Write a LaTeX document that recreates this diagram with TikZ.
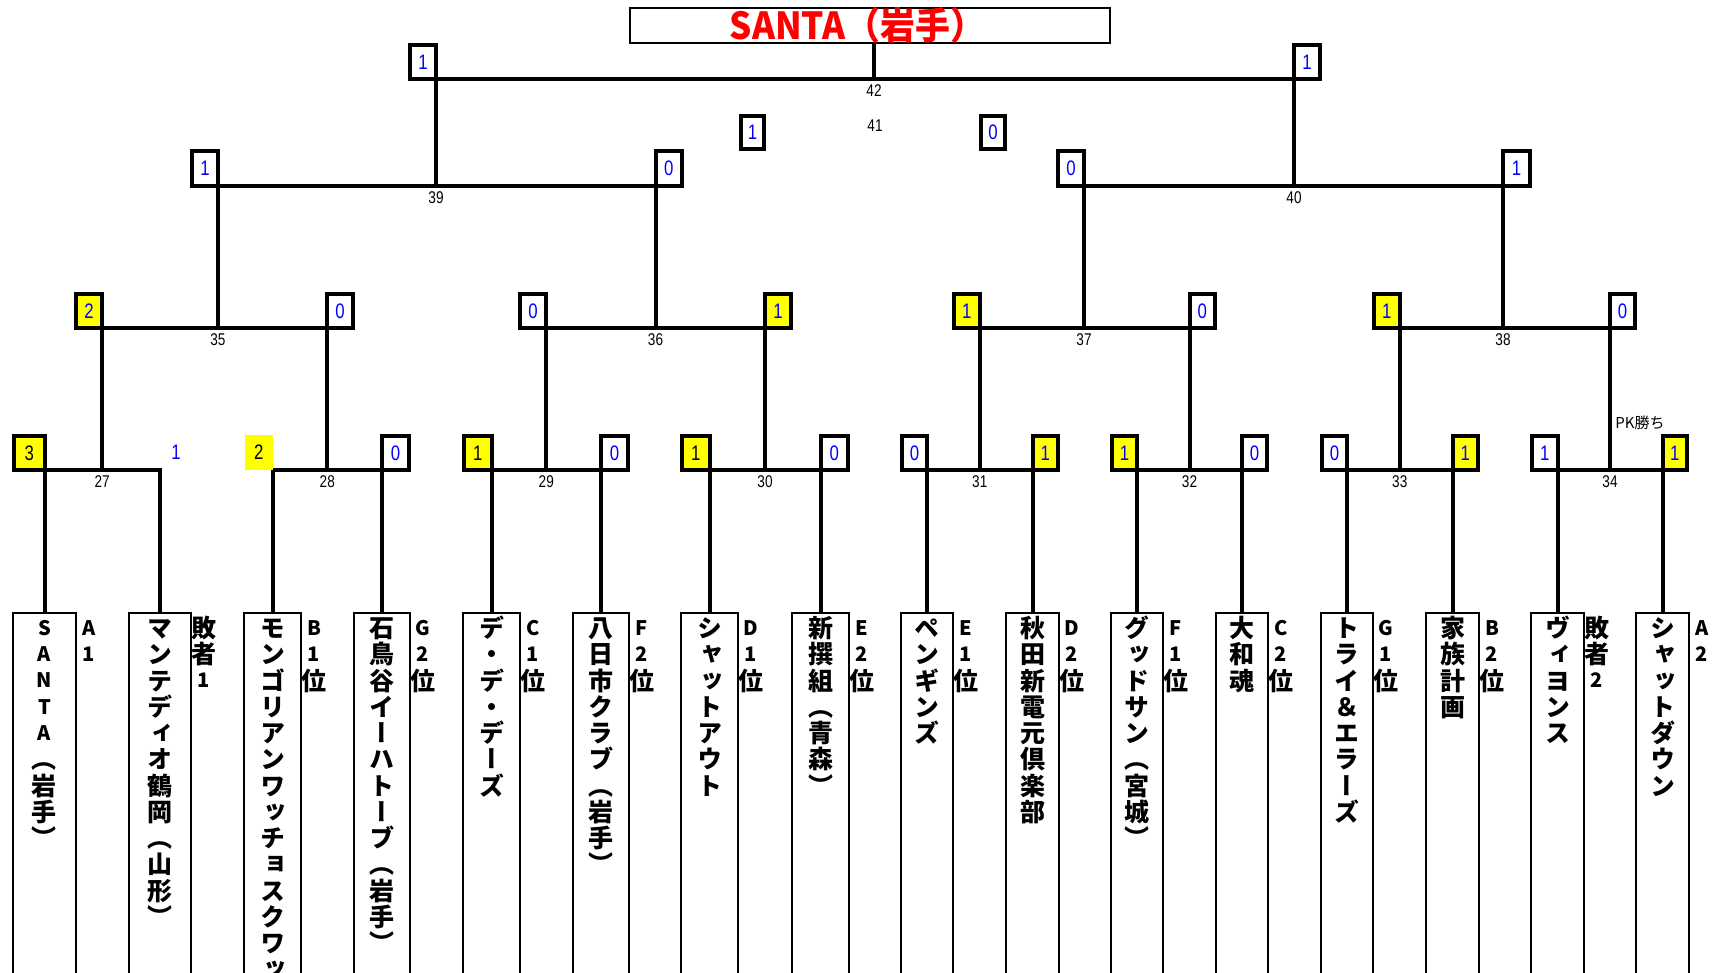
\documentclass[tikz,border=0pt]{standalone}
\usepackage{fontspec}
\usepackage{graphicx}
\newfontfamily\jpv{Noto Sans CJK JP}[RawFeature=+vert]
\newfontfamily\jph{Noto Sans CJK JP}
\newfontfamily\numf{Liberation Sans}[FakeStretch=0.8]
\definecolor{sblue}{RGB}{0,0,255}
\definecolor{syel}{RGB}{255,255,0}
\definecolor{tred}{RGB}{255,0,0}

\ExplSyntaxOn
\tl_new:N \l_my_vs_tl
\cs_new_protected:Npn \my_vchar:n #1
  {
    \int_compare:nNnTF { `#1 } < { 128 }
      { \raisebox{1.1pt}{\fontsize{10}{10}\selectfont #1} }
      { #1 }
  }
\NewDocumentCommand \vstack { m }
  {
    \tl_clear:N \l_my_vs_tl
    \tl_map_inline:nn {#1}
      {
        \tl_if_empty:NF \l_my_vs_tl { \tl_put_right:Nn \l_my_vs_tl { \\ } }
        \tl_put_right:Nn \l_my_vs_tl { \my_vchar:n {##1} }
      }
    \rule{0pt}{12.25pt}
    \tl_use:N \l_my_vs_tl
  }
\ExplSyntaxOff

% team box: name, left, right, team name, group label
\newcommand\team[5]{%
  \node[teambox, minimum width={(#3-#2)*0.5pt}] (#1) at (#2,613) {};
  \node[namecol] (#1n) at (#1.north) {\vstack{#4}};
  \node[namecol] (#1g) at (#3+13,613) {\vstack{#5}};
}
% score box: name, x1, x2, y1, y2, fill, text colour, digit
\newcommand\sbx[8]{%
  \node[sbox, fill=#6, text=#7, minimum width={(#3-#2)*0.5pt},
        minimum height={(#5-#4)*0.5pt}] (#1) at ({(#2+#3)/2},{(#4+#5)/2}) {#8};
}

\begin{document}
\begin{tikzpicture}[x=0.5pt,y=-0.5pt,
  br/.style={line width=2pt},
  teambox/.style={draw, line width=1pt, inner sep=0pt, outer sep=0pt,
    minimum height=200pt, anchor=north west},
  namecol/.style={align=center, inner sep=0pt, outer sep=0pt, anchor=north,
    font=\jpv\bfseries\fontsize{12.5}{13.125}\selectfont},
  digitfont/.style={font=\numf\fontsize{10.5}{10.5}\selectfont},
  sbox/.style={draw, line width=2pt, inner sep=0pt, outer sep=0pt, digitfont},
  mlabel/.style={inner sep=0pt, font=\numf\fontsize{8.5}{9}\selectfont},
]
\useasboundingbox (0,0) rectangle (1721,973);
\clip (0,0) rectangle (1721,973);

% ---------------- teams ----------------
\team{t1}{13}{76}{SANTA（岩手）}{A1}
\team{t2}{129}{191}{マンテディオ鶴岡（山形）}{敗者1}
\team{t3}{244}{301}{モンゴリアンワッチョスクワッ}{B1位}
\team{t4}{354}{410}{石鳥谷イーハトーブ（岩手）}{G2位}
\team{t5}{463}{520}{デ・デ・デーズ}{C1位}
\team{t6}{573}{629}{八日市クラブ（岩手）}{F2位}
\team{t7}{681}{738}{シャットアウト}{D1位}
\team{t8}{792}{849}{新撰組（青森）}{E2位}
\team{t9}{901}{953}{ペンギンズ}{E1位}
\team{t10}{1006}{1059}{秋田新電元倶楽部}{D2位}
\team{t11}{1111}{1163}{グッドサン（宮城）}{F1位}
\team{t12}{1216}{1268}{大和魂}{C2位}
\team{t13}{1321}{1373}{トライ＆エラーズ}{G1位}
\team{t14}{1426}{1479}{家族計画}{B2位}
\team{t15}{1531}{1584}{ヴィヨンス}{敗者2}
\team{t16}{1636}{1689}{シャットダウン}{A2}

% ---------------- junctions ----------------
\coordinate (m27) at (102.25,470);
\coordinate (m28) at (327.25,470);
\coordinate (m29) at (546.25,470);
\coordinate (m30) at (765,470);
\coordinate (m31) at (979.75,470);
\coordinate (m32) at (1189.5,470);
\coordinate (m33) at (1399.75,470);
\coordinate (m34) at (1610,470);
\coordinate (m35) at (218,328);
\coordinate (m36) at (655.5,328);
\coordinate (m37) at (1084,328);
\coordinate (m38) at (1503,328);
\coordinate (m39) at (436,186);
\coordinate (m40) at (1294,186);
\coordinate (m42) at (874,79);

% ---------------- title ----------------
\node[draw, line width=1pt, inner sep=0pt, outer sep=0pt,
      minimum width={480*0.5pt}, minimum height={35*0.5pt}] (title) at (870,25.5) {};
\node[inner sep=0pt, text=tred] (ttl) at (857.5,25)
  {\resizebox*{127.8pt}{18pt}{\jph\bfseries SANTA（岩手）}};

% ---------------- bracket lines ----------------
\draw[br] (t1.north) |- (m27) -| (t2.north);
\draw[br] (t3.north) |- (m28) -| (t4.north);
\draw[br] (t5.north) |- (m29) -| (t6.north);
\draw[br] (t7.north) |- (m30) -| (t8.north);
\draw[br] (t9.north) |- (m31) -| (t10.north);
\draw[br] (t11.north) |- (m32) -| (t12.north);
\draw[br] (t13.north) |- (m33) -| (t14.north);
\draw[br] (t15.north) |- (m34) -| (t16.north);
\draw[br] (m27) |- (m35) -| (m28);
\draw[br] (m29) |- (m36) -| (m30);
\draw[br] (m31) |- (m37) -| (m32);
\draw[br] (m33) |- (m38) -| (m34);
\draw[br] (m35) |- (m39) -| (m36);
\draw[br] (m37) |- (m40) -| (m38);
\draw[br] (m39) |- (m42) -| (m40);
\draw[br] (m42) -- (m42 |- title.south);

% ---------------- scores: first round ----------------
\sbx{s27a}{14}{44.5}{436}{470}{syel}{black}{3}
\node[inner sep=0pt, text=sblue, digitfont] (s27b) at (176,452) {1};
\node[fill=syel, inner sep=0pt, outer sep=0pt, minimum width={27.5*0.5pt},
      minimum height={35*0.5pt}, digitfont, text=black] (s28a) at (258.75,452.5) {2};
\sbx{s28b}{382}{409}{436}{470}{white}{sblue}{0}
\sbx{s29a}{464}{491.5}{436}{470}{syel}{black}{1}
\sbx{s29b}{601}{628}{436}{470}{white}{sblue}{0}
\sbx{s30a}{682}{709.5}{436}{470}{syel}{black}{1}
\sbx{s30b}{820.5}{848}{436}{470}{white}{sblue}{0}
\sbx{s31a}{902}{927}{436}{470}{white}{sblue}{0}
\sbx{s31b}{1032.5}{1058}{436}{470}{syel}{sblue}{1}
\sbx{s32a}{1112}{1137}{436}{470}{syel}{sblue}{1}
\sbx{s32b}{1242}{1267}{436}{470}{white}{sblue}{0}
\sbx{s33a}{1322}{1347}{436}{470}{white}{sblue}{0}
\sbx{s33b}{1452.5}{1478}{436}{470}{syel}{sblue}{1}
\sbx{s34a}{1532}{1557.5}{436}{470}{white}{sblue}{1}
\sbx{s34b}{1662.5}{1687}{436}{470}{syel}{sblue}{1}
% ---------------- scores: second round ----------------
\sbx{s35a}{76}{102.25}{294}{328}{syel}{sblue}{2}
\sbx{s35b}{327.25}{353}{294}{328}{white}{sblue}{0}
\sbx{s36a}{520}{546.25}{294}{328}{white}{sblue}{0}
\sbx{s36b}{765}{791}{294}{328}{syel}{sblue}{1}
\sbx{s37a}{954}{979.75}{294}{328}{syel}{sblue}{1}
\sbx{s37b}{1189.5}{1215}{294}{328}{white}{sblue}{0}
\sbx{s38a}{1374}{1399.75}{294}{328}{syel}{sblue}{1}
\sbx{s38b}{1610}{1635}{294}{328}{white}{sblue}{0}
% ---------------- semi-finals ----------------
\sbx{s39a}{192}{218}{151}{186}{white}{sblue}{1}
\sbx{s39b}{655.5}{682}{151}{186}{white}{sblue}{0}
\sbx{s40a}{1058}{1084}{151}{186}{white}{sblue}{0}
\sbx{s40b}{1503}{1530}{151}{186}{white}{sblue}{1}
% ---------------- final and third place ----------------
\sbx{s42a}{410}{436}{45}{79}{white}{sblue}{1}
\sbx{s42b}{1294}{1320}{45}{79}{white}{sblue}{1}
\sbx{s41a}{741}{764}{116}{149}{white}{sblue}{1}
\sbx{s41b}{981}{1005}{116}{149}{white}{sblue}{0}

% ---------------- match numbers ----------------
\foreach \m in {27,28,29,30,31,32,33,34,35,36,37,38,39,40,42}
  \path (m\m) ++(0,12) node[mlabel] (l\m) {\m};
\node[mlabel] (l41) at (875,126) {41};
\node[inner sep=0pt, font=\jph\fontsize{7.5}{8}\selectfont] (pk) at (1640,423) {PK勝ち};
\end{tikzpicture}
\end{document}
